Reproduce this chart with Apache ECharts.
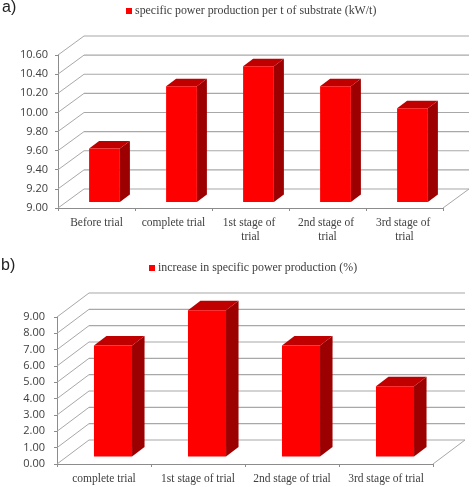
<!DOCTYPE html>
<html><head><meta charset="utf-8">
<script src="https://cdn.jsdelivr.net/npm/echarts@6/dist/echarts.min.js"></script>
<style>html,body{margin:0;padding:0;background:#fff}#c{width:472px;height:487px}</style>
</head><body><div id="c"></div>
<script>
const categoriesA = ['Before trial','complete trial','1st stage of trial','2nd stage of trial','3rd stage of trial'];
const valuesA = [9.56,10.21,10.42,10.21,9.98];
const ticksA = [9.0,9.2,9.4,9.6,9.8,10.0,10.2,10.4,10.6];
const nameA = 'specific power production per t of substrate (kW/t)';

const categoriesB = ['complete trial','1st stage of trial','2nd stage of trial','3rd stage of trial'];
const valuesB = [6.8,8.95,6.8,4.3];
const ticksB = [0,1,2,3,4,5,6,7,8,9];
const nameB = 'increase in specific power production (%)';

const GRID = '#a8a8a8', AXIS = '#8c8c8c', TXT = '#404040';
const SERIF = '"Liberation Serif", serif', SANS = '"Open Sans", sans-serif';

function wallSeries(idx, ticks, dx, dy) {
  return {
    type:'custom', xAxisIndex:idx, yAxisIndex:idx, z:1, silent:true, clip:false,
    data: ticks.map(t => [0,t]), encode:{x:0,y:1},
    renderItem(params, api){
      const r = params.coordSys;
      const y = api.coord([0, api.value(1)])[1];
      const x0 = r.x, x1 = r.x + r.width;
      const kids = [{type:'polyline', shape:{points:[[x0,y],[x0+dx,y-dy]]}, style:{stroke:GRID,fill:null,lineWidth:1}},
                    {type:'line', shape:{x1:x0+dx,y1:y-dy,x2:x1+dx,y2:y-dy}, style:{stroke:GRID,lineWidth:1.2}}];
      if (params.dataIndex === 0) kids.push({type:'line', shape:{x1:x1,y1:y,x2:x1+dx,y2:y-dy}, style:{stroke:GRID,lineWidth:1}});
      return {type:'group', children:kids};
    }
  };
}
function barSeries(idx, name, values, ticks, o) {
  return {
    type:'custom', name, xAxisIndex:idx, yAxisIndex:idx, z:3, clip:false,
    itemStyle:{color:'#ff0000'},
    data: values.map((v,i) => [i,v]), encode:{x:0,y:1},
    renderItem(params, api){
      const i = api.value(0), v = api.value(1);
      const top = api.coord([i,v]), base = api.coord([i,ticks[0]]);
      const w = api.size([1,0])[0]*o.w;
      const l = top[0]-w/2+o.ox, r = l+w, t = top[1]-o.oy, b = base[1]-o.oy;
      return {type:'group', children:[
        {type:'polygon', shape:{points:[[r,t],[r+o.sx,t-o.sy],[r+o.sx,b-o.sy],[r,b]]}, style:{fill:'#9c0000'}},
        {type:'polygon', shape:{points:[[l,t],[l+o.sx,t-o.sy],[r+o.sx,t-o.sy],[r,t]]}, style:{fill:'#c00000'}},
        {type:'rect', shape:{x:l,y:t,width:w,height:b-t}, style:{fill:'#ff0000'}}
      ]};
    }
  };
}
function xAxis(idx, cats, width, margin){
  return {type:'category', gridIndex:idx, data:cats,
    axisLine:{lineStyle:{color:AXIS}}, axisTick:{show:true,length:3,lineStyle:{color:AXIS}},
    axisLabel:{interval:0,color:TXT,fontFamily:SERIF,fontSize:11.5,margin,width,overflow:'break',lineHeight:14}};
}
function yAxis(idx, ticks, step, size, margin){
  return {type:'value', gridIndex:idx, min:ticks[0], max:ticks[ticks.length-1], interval:step,
    splitLine:{show:false},
    axisLine:{show:true,lineStyle:{color:AXIS}}, axisTick:{show:true,length:3,lineStyle:{color:AXIS}},
    axisLabel:{color:TXT,fontFamily:SANS,fontSize:size,margin,formatter:v=>v.toFixed(2)}};
}
function legend(name,left,top){
  return {data:[name],left,top,itemWidth:6,itemHeight:6,itemGap:3,icon:'rect',padding:0,selectedMode:false,
    textStyle:{color:TXT,fontFamily:SERIF,fontSize:11.9,padding:[0,0,0,-2]}};
}
const chart = echarts.init(document.getElementById('c'),null,{renderer:'canvas'});
chart.setOption({
  animation:false, backgroundColor:'#fff',
  grid:[{left:58,width:385,top:55,height:153},{left:57,width:376,top:317,height:147}],
  xAxis:[xAxis(0,categoriesA,66,8),xAxis(1,categoriesB,92,8)],
  yAxis:[yAxis(0,ticksA,0.2,11,10),yAxis(1,ticksB,1,11,12)],
  legend:[legend(nameA,126,5),legend(nameB,149,262)],
  series:[
    wallSeries(0,ticksA,26,19), wallSeries(1,ticksB,32,24),
    barSeries(0,nameA,valuesA,ticksA,{w:0.4,ox:8,oy:6,sx:10,sy:7.5}),
    barSeries(1,nameB,valuesB,ticksB,{w:0.405,ox:9,oy:7.5,sx:12.5,sy:9.5})
  ],
  graphic:[
    {type:'text',left:2,top:0,style:{text:'a)',fontFamily:'"Liberation Sans", sans-serif',fontSize:16,fill:'#222'}},
    {type:'text',left:1,top:258,style:{text:'b)',fontFamily:'"Liberation Sans", sans-serif',fontSize:16,fill:'#222'}}
  ]
});
</script></body></html>
